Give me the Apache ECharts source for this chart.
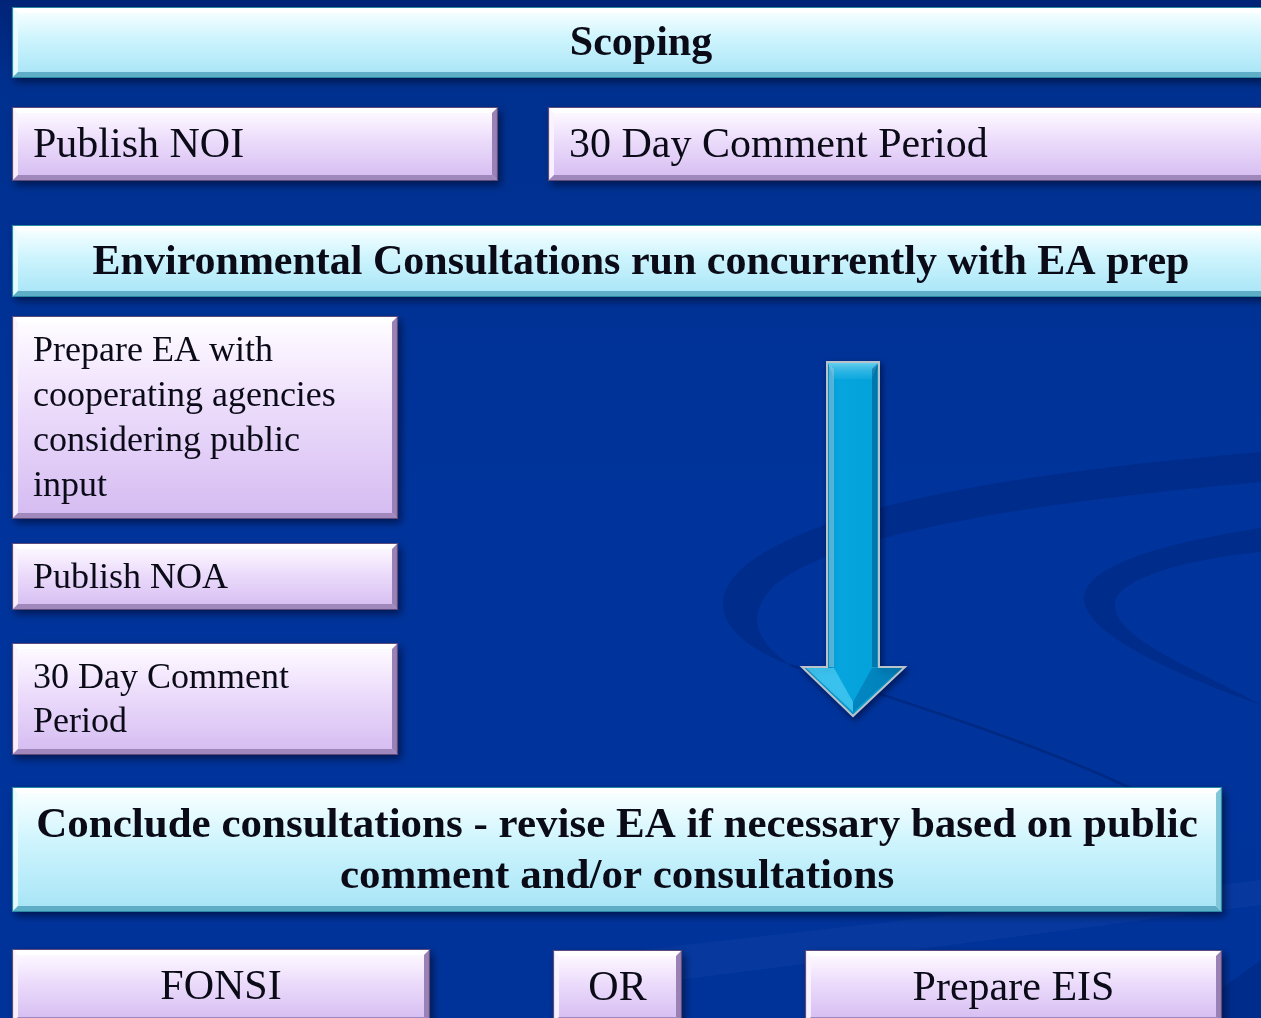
<!DOCTYPE html>
<html>
<head>
<meta charset="utf-8">
<script src="https://cdn.jsdelivr.net/npm/echarts@6/dist/echarts.min.js"></script>
<style>
html,body{margin:0;padding:0;background:#00339a;}
#chart{width:1261px;height:1018px;}
</style>
</head>
<body>
<div id="chart"></div>
<script>
// ---- content ----
const boxLabels = [
  'Scoping',
  'Publish NOI',
  '30 Day Comment Period',
  'Environmental Consultations run concurrently with EA prep',
  'Prepare EA with\ncooperating agencies\nconsidering public\ninput',
  'Publish NOA',
  '30 Day Comment\nPeriod',
  'Conclude consultations - revise EA if necessary based on public\ncomment and/or consultations',
  'FONSI',
  'OR',
  'Prepare EIS'
];
const boxKinds = ['cyan','purple','purple','cyan','purple','purple','purple','cyan','purple','purple','purple'];
const boxBold  = [true,false,false,true,false,false,false,true,false,false,false];
const boxAlign = ['center','left','left','center','left','left','left','center','center','center','center'];

// ---- layout (diagram coordinates, x to the right, y downward) ----
const boxLayout = [
  [12, 7, 1270, 78],
  [12, 107, 498, 181],
  [548, 107, 1275, 181],
  [12, 225, 1270, 297],
  [12, 316, 398, 519],
  [12, 543, 398, 610],
  [12, 643, 398, 755],
  [12, 787, 1222, 912],
  [12, 949, 430, 1023],
  [553, 950, 682, 1023],
  [805, 950, 1222, 1023]
];
const boxFont = [42, 42, 42, 42, 36, 36, 36, 43, 42, 42, 42];
const boxLineH = [45, 45, 45, 45, 45, 45, 44, 51, 45, 45, 45];
// arrow: shaft left, shaft right, top, head base, head left, head right, tip
const arrowGeom = [[827, 879, 362, 667, 802, 905, 716]];

const W = 1261, H = 1018;
const serif = '"Liberation Serif", "DejaVu Serif", serif';

const palette = {
  cyan: {
    grad: [[0,'#ffffff'],[0.12,'#f0fdff'],[0.45,'#cdf4fd'],[1,'#a6e4f6']],
    top: 'rgba(255,255,255,0.95)', left: 'rgba(235,252,255,0.9)',
    bottom: '#5eaec8', right: '#82c6da', stroke: '#2a8aa4'
  },
  purple: {
    grad: [[0,'#ffffff'],[0.12,'#fbf5ff'],[0.45,'#ecdcfb'],[1,'#d4bbf1']],
    top: 'rgba(255,255,255,0.95)', left: 'rgba(250,244,255,0.9)',
    bottom: '#a088bd', right: '#9a82b6', stroke: '#5d4b7c'
  }
};

function renderBox(params, api) {
  const i = api.value(4);
  const p0 = api.coord([api.value(0), api.value(1)]);
  const p1 = api.coord([api.value(2), api.value(3)]);
  const x = p0[0], y = p0[1], w = p1[0] - p0[0], h = p1[1] - p0[1];
  const pal = palette[boxKinds[i]];
  const b = 6;
  const children = [
    { type: 'rect', shape: { x, y, width: w, height: h },
      style: { fill: { type:'linear', x:0, y:0, x2:0, y2:1,
        colorStops: pal.grad.map(s => ({offset:s[0], color:s[1]})) },
        shadowBlur: 8, shadowOffsetX: 3, shadowOffsetY: 4, shadowColor: 'rgba(0,0,20,0.55)' } },
    { type: 'polygon', shape: { points: [[x,y],[x+w,y],[x+w-b,y+b],[x+b,y+b]] }, style: { fill: pal.top } },
    { type: 'polygon', shape: { points: [[x,y],[x+b,y+b],[x+b,y+h-b],[x,y+h]] }, style: { fill: pal.left } },
    { type: 'polygon', shape: { points: [[x,y+h],[x+b,y+h-b],[x+w-b,y+h-b],[x+w,y+h]] }, style: { fill: pal.bottom } },
    { type: 'polygon', shape: { points: [[x+w,y],[x+w,y+h],[x+w-b,y+h-b],[x+w-b,y+b]] }, style: { fill: pal.right } },
    { type: 'rect', shape: { x: x+0.5, y: y+0.5, width: w-1, height: h-1 },
      style: { fill: null, stroke: pal.stroke, lineWidth: 1.2 } }
  ];
  const align = boxAlign[i];
  const tx = align === 'left' ? x + 21 : x + w / 2;
  children.push({
    type: 'text',
    style: {
      text: boxLabels[i], x: tx, y: y + h / 2 + 2,
      align: align, verticalAlign: 'middle',
      font: (boxBold[i] ? 'bold ' : '') + boxFont[i] + 'px ' + serif,
      lineHeight: boxLineH[i],
      fill: '#0b0b18'
    }
  });
  return { type: 'group', children };
}

function renderArrow(params, api) {
  const c = v => api.coord([v, 0])[0];
  const r = v => api.coord([0, v])[1];
  const xl = c(api.value(0)), xr = c(api.value(1)), yt = r(api.value(2)),
        yb = r(api.value(3)), hl = c(api.value(4)), hr = c(api.value(5)), tip = r(api.value(6));
  const xm = (xl + xr) / 2;
  const pts = [[xl,yt],[xr,yt],[xr,yb],[hr,yb],[xm,tip],[hl,yb],[xl,yb]];
  const b = 7;
  return { type: 'group', children: [
    { type: 'polygon', shape: { points: pts },
      style: { fill: { type:'linear', x:0, y:0, x2:1, y2:0, colorStops:[
        {offset:0, color:'#1d9fd0'},{offset:0.2, color:'#08a6de'},{offset:0.7, color:'#04a2da'},{offset:1, color:'#0a86b8'}]},
        stroke: '#b9c3cc', lineWidth: 2,
        shadowBlur: 6, shadowOffsetX: 2, shadowOffsetY: 3, shadowColor: 'rgba(0,0,30,0.5)' } },
    { type: 'polygon', shape: { points: [[xl+1,yt+1],[xr-1,yt+1],[xr-b,yt+b+10],[xl+b,yt+b+10]] },
      style: { fill: { type:'linear', x:0, y:0, x2:0, y2:1, colorStops:[
        {offset:0, color:'rgba(110,215,245,0.9)'},{offset:1, color:'rgba(40,180,230,0.3)'}]} } },
    { type: 'polygon', shape: { points: [[xl+2,yt+2],[xl+b,yt+b],[xl+b,yb],[xl+2,yb]] },
      style: { fill: 'rgba(150,200,225,0.55)' } },
    { type: 'polygon', shape: { points: [[xr-2,yt+2],[xr-b,yt+b],[xr-b,yb],[xr-2,yb]] },
      style: { fill: 'rgba(0,70,120,0.45)' } },
    { type: 'polygon', shape: { points: [[hl+4,yb+1],[xl+b,yb+1],[xm,tip-14],[xm,tip-4]] },
      style: { fill: 'rgba(80,205,245,0.7)' } },
    { type: 'polygon', shape: { points: [[hr-4,yb+1],[xr-b,yb+1],[xm,tip-14],[xm,tip-4]] },
      style: { fill: 'rgba(0,110,170,0.55)' } }
  ]};
}

// background swirl decoration (pixel space, not data)
function renderDecor() {
  return { type: 'group', children: [
    { type: 'path',
      shape: { pathData: 'M 1261 452 C 1050 470 820 500 740 570 C 705 605 725 640 790 665 C 755 640 745 615 775 585 C 840 530 1060 500 1261 482 Z' },
      style: { fill: 'rgba(0,28,105,0.32)' } },
    { type: 'path',
      shape: { pathData: 'M 790 665 C 900 700 1060 750 1165 805' },
      style: { stroke: 'rgba(0,28,105,0.45)', lineWidth: 2.5, fill: null } },
    { type: 'path',
      shape: { pathData: 'M 1261 528 C 1150 545 1075 570 1085 605 C 1095 640 1190 680 1261 705 C 1200 670 1115 640 1115 605 C 1115 580 1180 560 1261 552 Z' },
      style: { fill: 'rgba(0,28,105,0.32)' } },
    { type: 'polygon', shape: { points: [[640,950],[1261,880],[1261,905],[640,985]] },
      style: { fill: 'rgba(70,110,200,0.10)' } },
    { type: 'polygon', shape: { points: [[1180,1018],[1261,960],[1261,1018]] },
      style: { fill: 'rgba(0,25,100,0.25)' } }
  ]};
}

const boxData = boxLayout.map((g, i) => [g[0], g[1], g[2], g[3], i]);

const chart = echarts.init(document.getElementById('chart'), null, { renderer: 'canvas' });
chart.setOption({
  animation: false,
  backgroundColor: { type:'linear', x:0, y:0, x2:0, y2:1, colorStops:[
    {offset:0, color:'#002478'},{offset:0.08, color:'#00308f'},{offset:0.5, color:'#00349c'},{offset:1, color:'#00339a'}]},
  grid: { left: 0, right: 0, top: 0, bottom: 0 },
  xAxis: { type: 'value', min: 0, max: W, show: false },
  yAxis: { type: 'value', min: 0, max: H, inverse: true, show: false },
  series: [
    { type: 'custom', renderItem: renderDecor, data: [[0, 0]], clip: false, silent: true, z: 0 },
    { type: 'custom', renderItem: renderBox, data: boxData, clip: false,
      encode: { x: [0, 2], y: [1, 3] }, silent: true, z: 2 },
    { type: 'custom', renderItem: renderArrow, data: arrowGeom, clip: false, silent: true, z: 2 }
  ]
});
</script>
</body>
</html>
